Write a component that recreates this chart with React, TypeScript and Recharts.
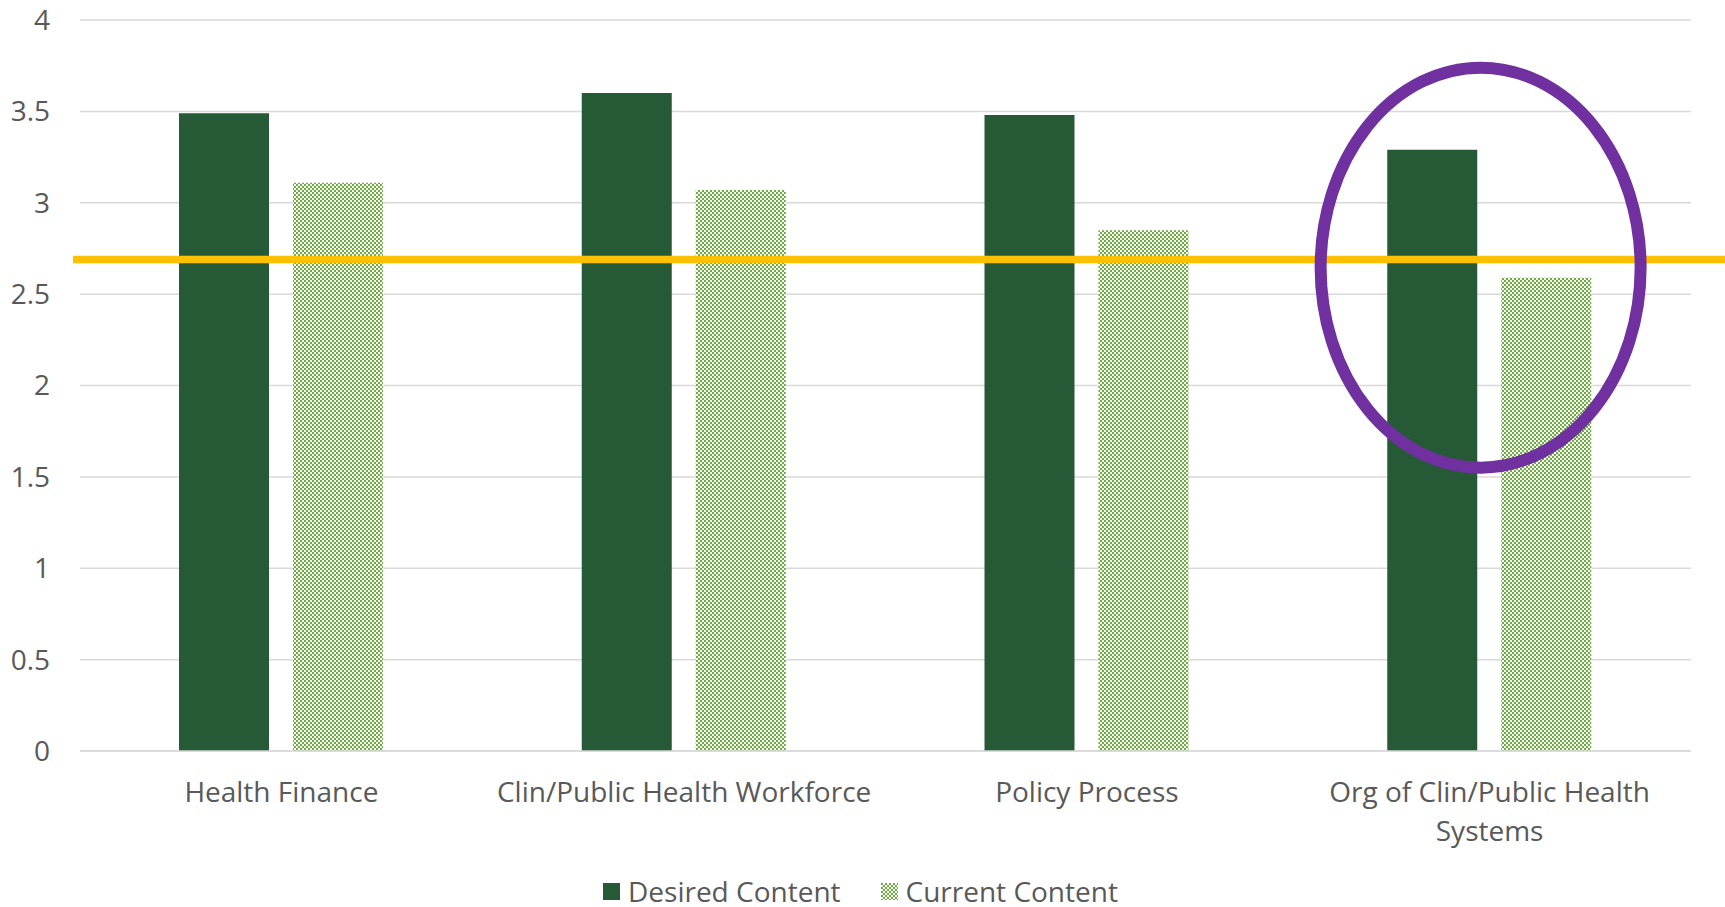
import { Bar, BarChart, CartesianGrid, ReferenceDot, ReferenceLine, XAxis, YAxis } from "recharts";

const categories = [
  "Health Finance",
  "Clin/Public Health Workforce",
  "Policy Process",
  "Org of Clin/Public Health Systems"
];
const desired = [3.49, 3.6, 3.48, 3.29];
const current = [3.11, 3.07, 2.85, 2.59];
const yTicks = [0, 0.5, 1, 1.5, 2, 2.5, 3, 3.5, 4];
const seriesNames = ["Desired Content", "Current Content"];
const thresholdValue = 2.69;
const highlightCategory = categories[3];
const highlightValue = 2.645;

const data = categories.map((name, i) => ({ name, desired: desired[i], current: current[i] }));

const font = "'Open Sans', 'Noto Sans', sans-serif";
const fontSize = 28;
const textColor = "#595959";
const darkGreen = "#265a37";
const lightGreen = "#6aae3c";

// word-wrap a label to a max pixel width, measured with canvas
function wrapLabel(label: string, maxWidth: number): string[] {
  const ctx = document.createElement("canvas").getContext("2d");
  if (!ctx) return [label];
  ctx.font = `${fontSize}px ${font}`;
  const lines: string[] = [];
  let line = "";
  for (const word of label.split(" ")) {
    const next = line ? line + " " + word : word;
    if (line && ctx.measureText(next).width > maxWidth) {
      lines.push(line);
      line = word;
    } else {
      line = next;
    }
  }
  if (line) lines.push(line);
  return lines;
}

function CategoryTick(props: any) {
  const { x, y, payload } = props;
  const lines = wrapLabel(payload.value, 392);
  return (
    <text x={x} y={y} textAnchor="middle" fill={textColor} fontSize={fontSize} fontFamily={font}>
      {lines.map((l, i) => (
        <tspan key={i} x={x} dy={i === 0 ? 0 : 38.5}>
          {l}
        </tspan>
      ))}
    </text>
  );
}

function Checker({ id }: { id: string }) {
  return (
    <pattern id={id} width="4" height="4" patternUnits="userSpaceOnUse">
      <rect x="0" y="0" width="4" height="4" fill="#ffffff" />
      <rect x="0" y="0" width="2" height="2" fill={lightGreen} />
      <rect x="2" y="2" width="2" height="2" fill={lightGreen} />
    </pattern>
  );
}

export default function App() {
  return (
    <div style={{ position: "absolute", left: 0, top: 0, width: 1725, height: 907, background: "#fff" }}>
      <BarChart
        width={1725}
        height={907}
        data={data}
        margin={{ top: 20, right: 34, left: 0, bottom: 0 }}
        barSize={90}
        barGap={24}
      >
        <defs>
          <Checker id="checker" />
        </defs>
        <CartesianGrid vertical={false} stroke="#d9d9d9" strokeWidth={1.5} />
        <XAxis
          dataKey="name"
          height={156}
          axisLine={{ stroke: "#d9d9d9", strokeWidth: 1.5 }}
          tickLine={false}
          tickSize={0}
          tickMargin={51}
          interval={0}
          tick={<CategoryTick />}
        />
        <YAxis
          width={80}
          domain={[0, 4]}
          ticks={yTicks}
          axisLine={false}
          tickLine={false}
          tickSize={0}
          tickMargin={30}
          tick={{ fill: textColor, fontSize, fontFamily: font }}
        />
        <Bar dataKey="desired" name={seriesNames[0]} fill={darkGreen} isAnimationActive={false} />
        <Bar dataKey="current" name={seriesNames[1]} fill="url(#checker)" isAnimationActive={false} />
        <ReferenceLine
          y={thresholdValue}
          shape={(p: any) => (
            <line x1={p.x1 - 7} y1={p.y1} x2={p.x2 + 40} y2={p.y2} stroke="#ffc000" strokeWidth={7.5} />
          )}
        />
        <ReferenceDot
          x={highlightCategory}
          y={highlightValue}
          shape={(p: any) => (
            <ellipse cx={p.cx - 9} cy={p.cy} rx={160} ry={200} fill="none" stroke="#7030a0" strokeWidth={12} />
          )}
        />
      </BarChart>
      <div
        style={{
          position: "absolute",
          left: 603,
          top: 876,
          height: 30,
          lineHeight: "30px",
          display: "flex",
          alignItems: "center",
          fontFamily: font,
          fontSize,
          color: textColor,
          whiteSpace: "nowrap"
        }}
      >
        <svg width={17} height={17} style={{ marginRight: 8 }}>
          <rect width={17} height={17} fill={darkGreen} />
        </svg>
        <span style={{ marginRight: 40 }}>{seriesNames[0]}</span>
        <svg width={17} height={17} style={{ marginRight: 8 }}>
          <defs>
            <Checker id="checkerLegend" />
          </defs>
          <rect width={17} height={17} fill="url(#checkerLegend)" />
        </svg>
        <span>{seriesNames[1]}</span>
      </div>
    </div>
  );
}
